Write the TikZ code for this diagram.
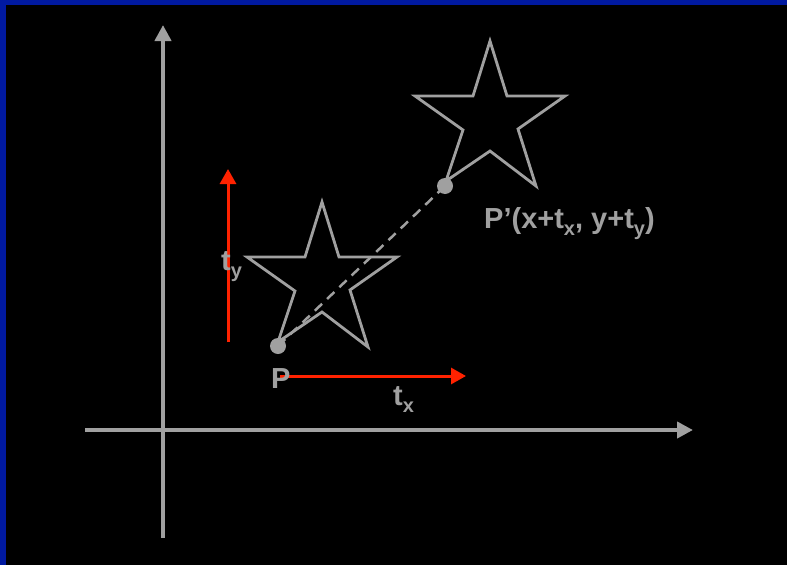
\documentclass[tikz,border=0pt]{standalone}
\usepackage{fontspec}
\setmainfont{Liberation Sans}
\usetikzlibrary{arrows.meta,positioning,calc}
\definecolor{trBlue}{HTML}{0019A0}
\definecolor{trGray}{HTML}{A0A0A0}
\definecolor{trRed}{HTML}{FF2200}
\newcommand{\lowsub}[1]{\raisebox{-7pt}{\fontsize{20}{20}\selectfont #1}}
\tikzset{
  axs/.style={draw=trGray, line width=4pt, -{Triangle[length=16pt,width=16pt]}},
  vec/.style={draw=trRed, line width=3pt, -{Triangle[length=15pt,width=16pt]}},
  starline/.style={draw=trGray, line width=2.8pt, line join=miter},
  dot/.style={circle, fill=trGray, inner sep=0pt, minimum size=16pt},
  lbl/.style={text=trGray, font=\fontsize{29}{34}\selectfont\bfseries, inner sep=0pt},
  star5/.pic={
    \draw[starline] (322,202) -- (339,257) -- (397,257) -- (350,290) -- (368,347)
      -- (322,312) -- (278,342) -- (295,291) -- (247,257) -- (305,257) -- cycle;
  },
}
\begin{document}
\begin{tikzpicture}[x=1pt, y=-1pt]
  \useasboundingbox (0,0) rectangle (787,565);
  \fill[trBlue] (0,0) rectangle (787,565);
  \fill[black] (6,5) rectangle (787,565);
  % axes
  \coordinate (xl) at (85,430);
  \coordinate (xr) at (693,430);
  \coordinate (yb) at (163,538);
  \coordinate (yt) at (163,25);
  \draw[axs] (xl) -- (xr);
  \draw[axs] (yb) -- (yt);
  % stars
  \pic at (0,0) {star5};
  \pic[shift={(168,-161)}] at (0,0) {star5};
  % points
  \node[dot] (ptP) at (278,346) {};
  \node[dot] (ptQ) at (445,186) {};
  \draw[trGray, line width=2.5pt, dash pattern=on 10pt off 7pt] (ptP.center) -- (ptQ.center);
  % translation vectors
  \coordinate (txs) at (280,376);
  \coordinate (txe) at (466,376);
  \coordinate (tys) at (228,342);
  \coordinate (tye) at (228,169);
  \draw[vec] (txs) -- (txe);
  \draw[vec] (tys) -- (tye);
  % labels
  \node[lbl, anchor=base west] (lblP) at (271,388) {P};
  \node[lbl, anchor=base west] (lblQ) at (484,228) {P’(x+t\lowsub{x}, y+t\lowsub{y})};
  \node[lbl, anchor=base west] (lblTx) at (393,405) {t\lowsub{x}};
  \node[lbl, anchor=base west] (lblTy) at (221,270) {t\lowsub{y}};
\end{tikzpicture}
\end{document}
